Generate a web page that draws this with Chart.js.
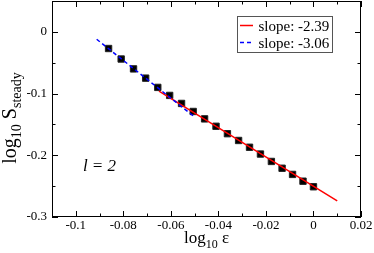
<!DOCTYPE html>
<html>
<head>
<meta charset="utf-8">
<script src="https://cdn.jsdelivr.net/npm/chart.js@4.4.1/dist/chart.umd.min.js"></script>
<style>
  html, body { margin: 0; padding: 0; background: #fff; }
  #wrap { width: 374px; height: 253px; }
</style>
</head>
<body>
<div id="wrap"><canvas id="chart" width="374" height="253"></canvas></div>
<script>
// measured points: log10(eps) vs log10(S_steady)
const logEps = [-0.0862, -0.0809, -0.0757, -0.0706, -0.0655, -0.0605, -0.0555, -0.0506, -0.0458, -0.0410,
                -0.0362, -0.0315, -0.0269, -0.0223, -0.0177, -0.0132, -0.0088, -0.0044, 0];
const logS = [-0.027, -0.044, -0.060, -0.075, -0.090, -0.103, -0.116, -0.129, -0.141, -0.153,
              -0.165, -0.176, -0.187, -0.198, -0.210, -0.221, -0.231, -0.242, -0.251];

// fitted lines (end points)
const redFitX = [-0.065, 0.01];
const redFitY = [-0.096, -0.274];
const blueFitX = [-0.0912, -0.050];
const blueFitY = [-0.012, -0.138];
const fitLabels = ['slope: -2.39', 'slope: -3.06'];

// axes
const xTicks = [-0.1, -0.08, -0.06, -0.04, -0.02, 0, 0.02];
const xTickLabels = ['-0.1', '-0.08', '-0.06', '-0.04', '-0.02', '0', '0.02'];
const xMinor = [-0.09, -0.07, -0.05, -0.03, -0.01, 0.01];
const yTicks = [0, -0.1, -0.2, -0.3];
const yTickLabels = ['0', '-0.1', '-0.2', '-0.3'];
const yMinor = [-0.05, -0.15, -0.25];

const SERIF = "'Liberation Serif', 'Times New Roman', serif";

const toXY = (xs, ys) => xs.map((x, i) => ({x: x, y: ys[i]}));

// draws a row of text pieces (for subscripts)
function drawRuns(ctx, runs, x, y) {
  for (const r of runs) {
    ctx.font = r.font;
    ctx.fillText(r.text, x, y + (r.dy || 0));
    x += ctx.measureText(r.text).width;
  }
}
function runsWidth(ctx, runs) {
  let w = 0;
  for (const r of runs) { ctx.font = r.font; w += ctx.measureText(r.text).width; }
  return w;
}

const framePlugin = {
  id: 'frame',
  afterDraw(chart) {
    const ctx = chart.ctx;
    const a = chart.chartArea;
    const xs = chart.scales.x, ys = chart.scales.y;
    ctx.save();
    ctx.strokeStyle = '#000';
    ctx.lineWidth = 1;
    ctx.strokeRect(a.left + 0.5, a.top + 0.5, a.right - a.left - 1, a.bottom - a.top - 1);

    ctx.beginPath();
    const xt = (v, len) => {
      const p = Math.round(xs.getPixelForValue(v)) + 0.5;
      ctx.moveTo(p, a.bottom); ctx.lineTo(p, a.bottom - len);
      ctx.moveTo(p, a.top); ctx.lineTo(p, a.top + len);
    };
    const yt = (v, len) => {
      const p = Math.round(ys.getPixelForValue(v)) + 0.5;
      ctx.moveTo(a.left, p); ctx.lineTo(a.left + len, p);
      ctx.moveTo(a.right, p); ctx.lineTo(a.right - len, p);
    };
    xTicks.forEach(v => xt(v, 6));
    xMinor.forEach(v => xt(v, 3.5));
    yTicks.forEach(v => yt(v, 6));
    yMinor.forEach(v => yt(v, 3.5));
    ctx.stroke();

    // legend box
    const lx = a.right - 124, ly = a.top + 15;
    ctx.fillStyle = '#fff';
    ctx.fillRect(lx, ly, 96, 37);
    ctx.strokeStyle = '#555';
    ctx.strokeRect(lx + 0.5, ly + 0.5, 95, 36);
    [1, 2].forEach((di, k) => {
      const ds = chart.data.datasets[di];
      const yy = ly + 9.5 + k * 17;
      ctx.beginPath();
      ctx.strokeStyle = ds.borderColor;
      ctx.lineWidth = 1.5;
      ctx.setLineDash(ds.borderDash || []);
      ctx.moveTo(lx + 3, yy); ctx.lineTo(lx + 16, yy);
      ctx.stroke();
      ctx.setLineDash([]);
      ctx.fillStyle = '#000';
      ctx.font = '15px ' + SERIF;
      ctx.textBaseline = 'alphabetic';
      ctx.fillText(ds.label, lx + 21.5, ly + 14.5 + k * 17);
    });

    // annotation
    ctx.fillStyle = '#000';
    ctx.font = 'italic 17px ' + SERIF;
    ctx.fillText('l = 2', xs.getPixelForValue(-0.097), ys.getPixelForValue(-0.226));

    // x axis title
    const big = '17px ' + SERIF, small = '12px ' + SERIF;
    const xRuns = [{text: 'log', font: big}, {text: '10', font: small, dy: 5}, {text: ' \u03b5', font: big}];
    const cx = (a.left + a.right) / 2;
    drawRuns(ctx, xRuns, cx - runsWidth(ctx, xRuns) / 2, 243);

    // y axis title
    const bigY = '20px ' + SERIF, smallY = '14px ' + SERIF;
    const yRuns = [{text: 'log', font: bigY}, {text: '10', font: smallY, dy: 5}, {text: ' S', font: bigY},
                   {text: 'steady', font: smallY, dy: 5}];
    ctx.translate(16, 118);
    ctx.rotate(-Math.PI / 2);
    drawRuns(ctx, yRuns, -runsWidth(ctx, yRuns) / 2, 0);
    ctx.restore();
  }
};

new Chart(document.getElementById('chart'), {
  type: 'scatter',
  data: {
    datasets: [
      {
        label: 'data',
        data: toXY(logEps, logS),
        pointStyle: 'rect',
        pointRadius: 4.5,
        backgroundColor: '#000',
        borderColor: '#222',
        borderWidth: 1,
        order: 2
      },
      {
        type: 'line',
        label: fitLabels[0],
        data: toXY(redFitX, redFitY),
        borderColor: '#ff0000',
        borderWidth: 1.5,
        pointRadius: 0,
        fill: false,
        order: 1
      },
      {
        type: 'line',
        label: fitLabels[1],
        data: toXY(blueFitX, blueFitY),
        borderColor: '#0000ff',
        borderDash: [4, 3],
        borderWidth: 1.5,
        pointRadius: 0,
        fill: false,
        order: 0
      }
    ]
  },
  options: {
    responsive: false,
    animation: false,
    devicePixelRatio: 1,
    layout: { autoPadding: false, padding: { top: 1, right: 13, left: 0, bottom: 0 } },
    plugins: { legend: { display: false }, tooltip: { enabled: false } },
    scales: {
      x: {
        type: 'linear',
        position: 'bottom',
        min: -0.11,
        max: 0.02,
        grid: { display: false, drawTicks: false },
        border: { display: false },
        ticks: {
          font: { family: SERIF, size: 13 },
          color: '#000',
          padding: 1,
          maxRotation: 0,
          autoSkip: false,
          callback: v => xTickLabels[xTicks.indexOf(v)]
        },
        afterBuildTicks: s => { s.ticks = xTicks.map(v => ({value: v})); },
        afterFit: s => { s.height = 36; s.paddingLeft = 0; s.paddingRight = 0; }
      },
      y: {
        type: 'linear',
        min: -0.3,
        max: 0.05,
        grid: { display: false, drawTicks: false },
        border: { display: false },
        ticks: {
          font: { family: SERIF, size: 13 },
          color: '#000',
          padding: 5,
          autoSkip: false,
          callback: v => yTickLabels[yTicks.indexOf(v)]
        },
        afterBuildTicks: s => { s.ticks = yTicks.map(v => ({value: v})); },
        afterFit: s => { s.width = 52; s.paddingTop = 0; s.paddingBottom = 0; }
      }
    }
  },
  plugins: [framePlugin]
});
</script>
</body>
</html>
